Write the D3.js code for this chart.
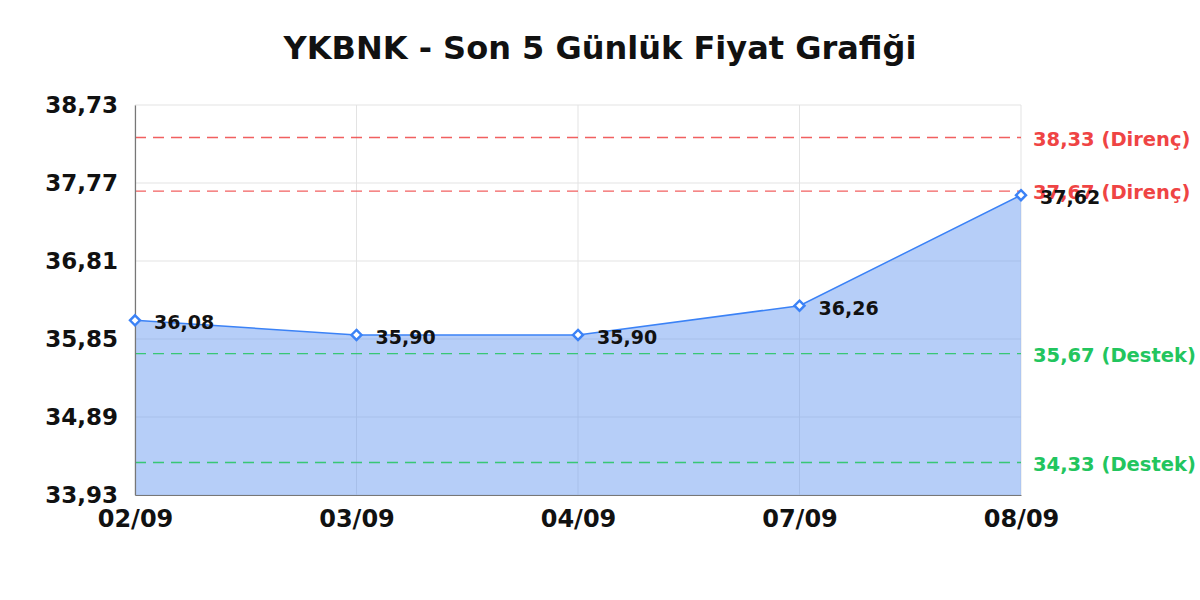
<!DOCTYPE html>
<html>
<head>
<meta charset="utf-8">
<script src="https://cdn.jsdelivr.net/npm/d3@7"></script>
<style>
  body { margin: 0; background: #fff; }
  svg text { font-family: "DejaVu Sans", sans-serif; font-weight: bold; }
</style>
</head>
<body>
<svg width="1200" height="600"></svg>
<script>
// chart data
const dates = ["02/09", "03/09", "04/09", "07/09", "08/09"];
const prices = [36.08, 35.90, 35.90, 36.26, 37.62];
const yTicks = [33.93, 34.89, 35.85, 36.81, 37.77, 38.73];
const resistance = [38.33, 37.67];
const support = [35.67, 34.33];

const svg = d3.select("svg");
const margin = { top: 105, right: 179, bottom: 105, left: 135 };
const width = +svg.attr("width");
const height = +svg.attr("height");
const fmt = v => v.toFixed(2).replace(".", ",");

const x = d3.scalePoint()
    .domain(dates)
    .range([margin.left, width - margin.right]);

const y = d3.scaleLinear()
    .domain([yTicks[0], yTicks[yTicks.length - 1]])
    .range([height - margin.bottom, margin.top]);

const data = dates.map((d, i) => ({ date: d, price: prices[i] }));

// title
svg.append("text")
    .attr("x", width / 2)
    .attr("y", 59)
    .attr("text-anchor", "middle")
    .style("font-size", "32px")
    .attr("fill", "#111")
    .text("YKBNK - Son 5 Günlük Fiyat Grafiği");

// grid
svg.append("g")
    .selectAll("line")
    .data(yTicks)
    .enter().append("line")
    .attr("x1", margin.left)
    .attr("x2", width - margin.right)
    .attr("y1", d => y(d))
    .attr("y2", d => y(d))
    .attr("stroke", "#e3e3e3")
    .attr("stroke-width", 1);

svg.append("g")
    .selectAll("line")
    .data(dates)
    .enter().append("line")
    .attr("x1", d => x(d))
    .attr("x2", d => x(d))
    .attr("y1", margin.top)
    .attr("y2", height - margin.bottom)
    .attr("stroke", "#e3e3e3")
    .attr("stroke-width", 1);

// area + line
const area = d3.area()
    .x(d => x(d.date))
    .y0(y(yTicks[0]))
    .y1(d => y(d.price));

svg.append("path")
    .datum(data)
    .attr("d", area)
    .attr("fill", "rgba(100, 150, 240, 0.47)");

const line = d3.line()
    .x(d => x(d.date))
    .y(d => y(d.price));

svg.append("path")
    .datum(data)
    .attr("d", line)
    .attr("fill", "none")
    .attr("stroke", "#3b82f6")
    .attr("stroke-width", 1.5);

// support / resistance lines
const levels = resistance.map(v => ({ v, kind: "Direnç", color: "#ef4444" }))
    .concat(support.map(v => ({ v, kind: "Destek", color: "#22c55e" })));

svg.append("g")
    .selectAll("line")
    .data(levels)
    .enter().append("line")
    .attr("x1", margin.left)
    .attr("x2", width - margin.right)
    .attr("y1", d => y(d.v))
    .attr("y2", d => y(d.v))
    .attr("stroke", d => d.color)
    .attr("stroke-opacity", 0.85)
    .attr("stroke-width", 1.4)
    .attr("stroke-dasharray", "11,7");

svg.append("g")
    .selectAll("text")
    .data(levels)
    .enter().append("text")
    .attr("x", width - margin.right + 12)
    .attr("y", d => y(d.v) + 8)
    .attr("fill", d => d.color)
    .style("font-size", "19.5px")
    .text(d => fmt(d.v) + " (" + d.kind + ")");

// axes
const yAxis = d3.axisLeft(y).tickValues(yTicks).tickSize(0).tickPadding(17).tickFormat(fmt);
const gy = svg.append("g")
    .attr("transform", `translate(${margin.left},0)`)
    .call(yAxis);
gy.select(".domain").attr("stroke", "#777").attr("stroke-width", 1.2);
gy.selectAll("text")
    .style("font-size", "23px")
    .attr("fill", "#111");

const xAxis = d3.axisBottom(x).tickSize(0).tickPadding(15);
const gx = svg.append("g")
    .attr("transform", `translate(0,${height - margin.bottom})`)
    .call(xAxis);
gx.select(".domain").attr("stroke", "#777").attr("stroke-width", 1.2);
gx.selectAll("text")
    .style("font-size", "24px")
    .attr("fill", "#111");

// markers
const diamond = d3.symbol().type(d3.symbolDiamond2).size(64);
svg.append("g")
    .selectAll("path")
    .data(data)
    .enter().append("path")
    .attr("d", diamond)
    .attr("transform", d => `translate(${x(d.date)},${y(d.price)})`)
    .attr("fill", "#fff")
    .attr("stroke", "#3b82f6")
    .attr("stroke-width", 2.4);

// value labels
svg.append("g")
    .selectAll("text")
    .data(data)
    .enter().append("text")
    .attr("x", d => x(d.date) + 19)
    .attr("y", d => y(d.price) + 9)
    .attr("fill", "#111")
    .style("font-size", "19px")
    .text(d => fmt(d.price));
</script>
</body>
</html>
